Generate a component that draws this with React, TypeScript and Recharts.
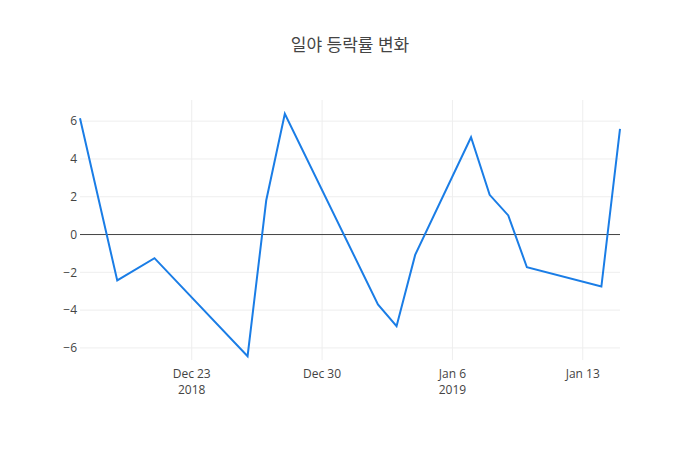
import React from 'react';
import { LineChart, Line, XAxis, YAxis, CartesianGrid, ReferenceLine } from 'recharts';

// trading days (UTC) and daily change (%)
const dates = [
  '2018-12-17', '2018-12-19', '2018-12-21', '2018-12-26', '2018-12-27', '2018-12-28',
  '2019-01-02', '2019-01-03', '2019-01-04', '2019-01-07', '2019-01-08', '2019-01-09',
  '2019-01-10', '2019-01-14', '2019-01-15',
];
const changes = [6.15, -2.43, -1.25, -6.44, 1.8, 6.39, -3.7, -4.85, -1.08, 5.15, 2.1, 1.01, -1.73, -2.75, 5.59];

const xTicks = ['2018-12-23', '2018-12-30', '2019-01-06', '2019-01-13'];
const xTickLines = [['Dec 23', '2018'], ['Dec 30'], ['Jan 6', '2019'], ['Jan 13']];
const yTicks = [-6, -4, -2, 0, 2, 4, 6];

const toTs = (d: string) => Date.parse(d + 'T00:00:00Z');

const data = dates.map((d, i) => ({ t: toTs(d), v: changes[i] }));
const tickTs = xTicks.map(toTs);
const xDomain = [toTs('2018-12-17'), toTs('2019-01-15')];
const yDomain = [-6.64, 7.12];

const FONT = '"Open Sans", "Noto Sans CJK KR", sans-serif';

const DateTick = (props: any) => {
  const { x, y, payload } = props;
  const idx = tickTs.indexOf(payload.value);
  const lines = idx >= 0 ? xTickLines[idx] : [];
  return (
    <text x={x} y={y} textAnchor="middle" fill="#444" fontSize={12} fontFamily={FONT}>
      {lines.map((l, i) => (
        <tspan key={i} x={x} dy={i === 0 ? 10 : 16}>{l}</tspan>
      ))}
    </text>
  );
};

const fmtY = (v: number) => (v < 0 ? '\u2212' + Math.abs(v) : String(v));

// grid only at the tick positions (no frame round the plot)
const hLines = ({ offset }: any) =>
  yTicks.map((t) => offset.top + ((yDomain[1] - t) / (yDomain[1] - yDomain[0])) * offset.height);
const vLines = ({ offset }: any) =>
  tickTs.map((t) => offset.left + ((t - xDomain[0]) / (xDomain[1] - xDomain[0])) * offset.width);

export default function App() {
  return (
    <div style={{ position: 'absolute', left: 0, top: 0, width: 700, height: 450, background: '#fff' }}>
      <div
        style={{
          position: 'absolute', top: 31, left: 0, width: 700, textAlign: 'center',
          fontFamily: FONT, fontSize: 17, color: '#444',
        }}
      >
        일야 등락률 변화
      </div>
      <LineChart width={700} height={450} data={data} margin={{ top: 100, right: 80, bottom: 50, left: 40 }}>
        <CartesianGrid
          stroke="#eee"
          strokeWidth={1}
          horizontalCoordinatesGenerator={hLines}
          verticalCoordinatesGenerator={vLines}
        />
        <XAxis
          dataKey="t"
          type="number"
          scale="time"
          domain={xDomain}
          ticks={tickTs}
          tick={<DateTick />}
          axisLine={false}
          tickLine={false}
          height={40}
          interval={0}
        />
        <YAxis
          type="number"
          domain={yDomain}
          ticks={yTicks}
          tickFormatter={fmtY}
          allowDataOverflow
          axisLine={false}
          tickLine={false}
          tickSize={0}
          tickMargin={3}
          width={40}
          tick={{ fill: '#444', fontSize: 12, fontFamily: FONT }}
        />
        <ReferenceLine y={0} stroke="#444" strokeWidth={1} />
        <Line
          dataKey="v"
          type="linear"
          stroke="#1a7de6"
          strokeWidth={2}
          dot={false}
          activeDot={false}
          isAnimationActive={false}
        />
      </LineChart>
    </div>
  );
}
